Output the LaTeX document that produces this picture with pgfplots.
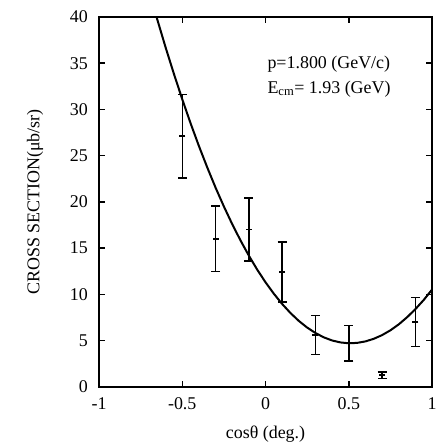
\documentclass[border=0pt]{standalone}
\usepackage{fontspec}
\setmainfont{Liberation Serif}
\usepackage{graphicx}
\usepackage{pgfplots}
\pgfplotsset{compat=1.18}
\begin{document}
\fontsize{18}{21}\selectfont
\begin{tikzpicture}[x=1bp,y=1bp]
\useasboundingbox (0,0) rectangle (440,442);
\begin{axis}[at={(99bp,55.3bp)}, anchor=south west, scale only axis,
  width=333bp, height=369.7bp,
  xmin=-1, xmax=1, ymin=0, ymax=40,
  xtick={-1,-0.5,0,0.5,1}, xticklabels={-1,-0.5,0,0.5,1},
  ytick={0,5,...,40},
  tick align=inside, major tick length=6bp,
  tick style={line width=1.5bp, black},
  axis line style={line width=2bp},
  /pgf/number format/assume math mode=true,
  ticklabel style={font=\fontsize{18}{21}\selectfont},
  yticklabel style={xshift=-5bp},
  xticklabel style={yshift=-5bp},
  label style={font=\fontsize{18}{21}\selectfont},
  xlabel={cosθ (deg.)},
  xlabel style={at={(axis description cs:0.5,-0.128)}, anchor=center},
  clip mode=individual,
]
\addplot[black, line width=2bp, no marks] coordinates {
(-0.67,40.98) (-0.65,39.73) (-0.60,36.71) (-0.55,33.84) (-0.50,31.10)
(-0.45,28.50) (-0.40,26.04) (-0.35,23.73) (-0.30,21.54) (-0.25,19.50)
(-0.20,17.59) (-0.15,15.82) (-0.10,14.18) (-0.05,12.67) (0.00,11.30)
(0.05,10.06) (0.10,8.95) (0.15,7.97) (0.20,7.12) (0.25,6.40)
(0.30,5.81) (0.35,5.34) (0.40,5.00) (0.45,4.79) (0.50,4.70)
(0.55,4.74) (0.60,4.90) (0.65,5.18) (0.70,5.58) (0.75,6.10)
(0.80,6.74) (0.85,7.51) (0.90,8.39) (0.95,9.38) (1.00,10.50)
};
\addplot[black, only marks, mark=-, mark size=3bp, mark options={line width=1.5bp},
  error bars/.cd, y dir=both, y explicit,
  error bar style={line width=1.5bp, black},
  error mark options={rotate=90, mark size=4.5bp, line width=1.5bp, black}]
coordinates {
(-0.5,27.1) +- (0,4.5)
(-0.3,16.0) +- (0,3.55)
(-0.1,17.0) +- (0,3.4)
(0.1,12.4) +- (0,3.25)
(0.3,5.6) +- (0,2.1)
(0.5,4.7) +- (0,1.9)
(0.7,1.25) +- (0,0.35)
(0.9,7.0) +- (0,2.65)
};
\node[anchor=west] at (axis cs:-0.025,34.9) {p=1.800 (GeV/c)};
\node[anchor=west] at (axis cs:-0.025,32.2) {E\textsubscript{cm}= 1.93 (GeV)};
\node[anchor=center, inner sep=0pt] at (axis description cs:-0.192,0.5) {\rotatebox{90}{CROSS SECTION(μb/sr)}};
\end{axis}
\end{tikzpicture}
\end{document}
